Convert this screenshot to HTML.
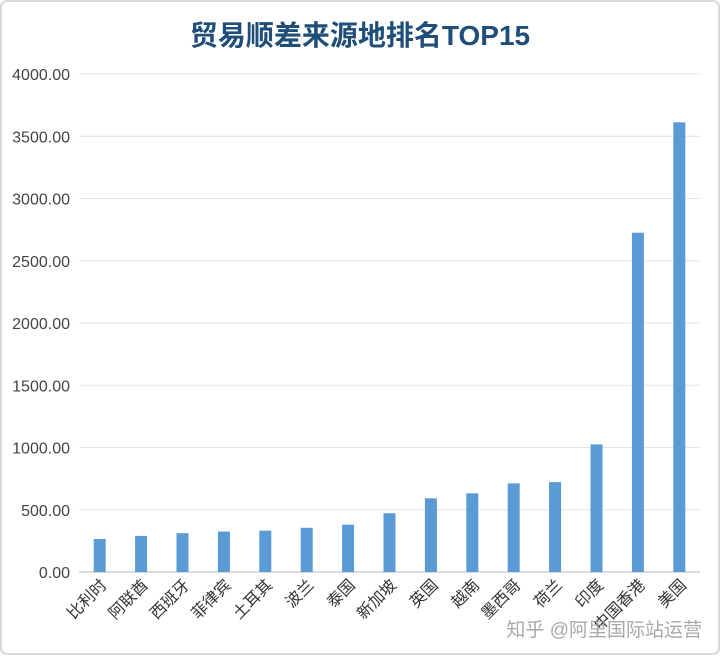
<!DOCTYPE html>
<html><head><meta charset="utf-8"><style>
body{margin:0;background:#fff;}
svg text{font-family:"Liberation Sans","Noto Sans CJK SC",sans-serif;}
</style></head><body>
<svg width="720" height="655" xmlns="http://www.w3.org/2000/svg">
<rect x="1" y="1" width="718" height="653" rx="6" fill="#fff" stroke="#d9d9d9" stroke-width="2"/>
<text x="360" y="45" text-anchor="middle" font-size="28" font-weight="bold" fill="#1f4e79">贸易顺差来源地排名TOP15</text>
<g id="grid"></g><g id="bars"></g><g id="xl"></g>
<text x="702" y="636" text-anchor="end" font-size="19" fill="#9a9a9a" opacity="0.85">知乎 @阿里国际站运营</text>
</svg>
<script>
const categories=["比利时","阿联酋","西班牙","菲律宾","土耳其","波兰","泰国","新加坡","英国","越南","墨西哥","荷兰","印度","中国香港","美国"];
const values=[265,290,312,325,332,355,380,472,592,632,712,722,1025,2725,3612];
const yTicks=[0,500,1000,1500,2000,2500,3000,3500,4000];
const tickLabels=["0.00","500.00","1000.00","1500.00","2000.00","2500.00","3000.00","3500.00","4000.00"];
const NS="http://www.w3.org/2000/svg";
const x0=79,x1=700,y0=572,y1=74,yMax=4000;
function y(v){return y0-(v/yMax)*(y0-y1);}
function xc(i){return x0+(i+0.5)*(x1-x0)/categories.length;}
function mk(t,a,p){const e=document.createElementNS(NS,t);for(const k in a)e.setAttribute(k,a[k]);p.appendChild(e);return e;}
const g=document.getElementById('grid'),b=document.getElementById('bars'),xl=document.getElementById('xl');
yTicks.forEach((v,i)=>{
 const l=mk('line',{x1:x0,x2:x1,y1:y(v),y2:y(v),stroke:v===0?'#d0d0d0':'#e4e4e4','stroke-width':v===0?1.5:1},g);
 
 
 const t=mk('text',{x:70,y:y(v)+6,'text-anchor':'end','font-size':16,fill:'#444'},g);
 t.textContent=tickLabels[i];
 
 
});
categories.forEach((c,i)=>{
 const r=mk('rect',{x:xc(i)-6,y:y(values[i]),width:12,height:y0-y(values[i]),fill:'#5b9bd5'},b);
 
 
 const cx=xc(i)+8,cy=y0+14;
 const t=mk('text',{x:cx,y:cy,'text-anchor':'end','font-size':16,fill:'#333',transform:`rotate(-45 ${cx} ${cy})`,'font-family':'"Liberation Serif","Noto Serif CJK SC",serif'},xl);
 t.textContent=c;
 
 
});
</script>
</body></html>
